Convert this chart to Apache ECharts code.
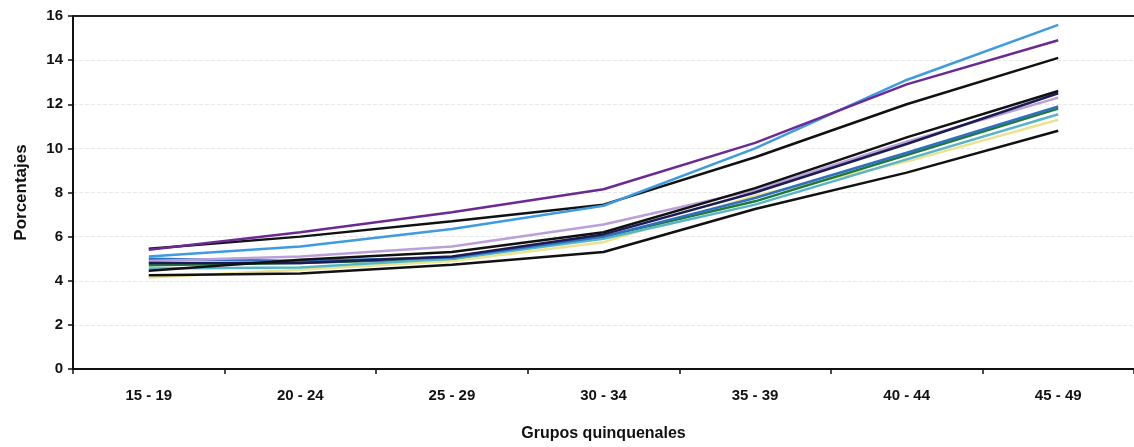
<!DOCTYPE html>
<html><head><meta charset="utf-8">
<script src="https://cdn.jsdelivr.net/npm/echarts@6/dist/echarts.min.js"></script>
<style>html,body{margin:0;padding:0;background:#fff}#c{width:1134px;height:447px}</style>
</head><body><div id="c"></div>
<script>
var categories = ['15 - 19','20 - 24','25 - 29','30 - 34','35 - 39','40 - 44','45 - 49'];
var yTicks = [0,2,4,6,8,10,12,14,16];
var sPurple   = [5.40, 6.20, 7.10, 8.15, 10.25, 12.90, 14.90];
var sLightBlue= [5.10, 5.55, 6.35, 7.40, 10.00, 13.10, 15.60];
var sBlackTop = [5.45, 6.00, 6.70, 7.45, 9.60, 12.00, 14.10];
var sLavender = [4.90, 5.10, 5.55, 6.55, 8.10, 10.30, 12.30];
var sBlackMid = [4.45, 4.95, 5.30, 6.20, 8.20, 10.50, 12.60];
var sNavy     = [4.80, 4.80, 5.10, 6.10, 8.00, 10.20, 12.50];
var sBlue     = [5.00, 4.90, 5.05, 6.00, 7.75, 9.80, 11.90];
var sGreen    = [4.70, 4.80, 5.00, 6.00, 7.60, 9.70, 11.80];
var sTeal     = [4.55, 4.60, 5.00, 5.90, 7.45, 9.50, 11.55];
var sYellow   = [4.15, 4.50, 4.90, 5.75, 7.85, 9.40, 11.30];
var sBlackLow = [4.25, 4.33, 4.73, 5.30, 7.25, 8.90, 10.80];
var seriesDefs = [
  ['Amarillo', sYellow, '#ebe38e'],
  ['Verde', sGreen, '#1f7a3a'],
  ['Turquesa', sTeal, '#58b4c8'],
  ['Azul', sBlue, '#3070c0'],
  ['Lavanda', sLavender, '#b9a0d8'],
  ['Marino', sNavy, '#1c1c55'],
  ['NegroMedio', sBlackMid, '#111111'],
  ['NegroBajo', sBlackLow, '#111111'],
  ['NegroAlto', sBlackTop, '#111111'],
  ['Celeste', sLightBlue, '#3e9be0'],
  ['Morado', sPurple, '#6b2a93']
];
var chart = echarts.init(document.getElementById('c'));
var font = '"Liberation Sans", Arial, sans-serif';
chart.setOption({
  animation: false,
  grid: {left: 73, top: 16, width: 1069, height: 358},
  xAxis: [{
    type: 'category', data: categories, boundaryGap: true, position: 'bottom',
    axisLine: {lineStyle: {color: '#111', width: 2}},
    axisTick: {show: true, length: 5, lineStyle: {color: '#111', width: 1.5}},
    axisLabel: {color: '#111', fontFamily: font, fontWeight: 'bold', fontSize: 15, margin: 19},
    name: 'Grupos quinquenales', nameLocation: 'middle', nameGap: 57,
    nameTextStyle: {color: '#111', fontFamily: font, fontWeight: 'bold', fontSize: 16}
  }, {
    type: 'category', data: categories, position: 'top',
    axisLine: {lineStyle: {color: '#222', width: 2}},
    axisTick: {show: false}, axisLabel: {show: false}
  }],
  yAxis: {
    type: 'value', min: yTicks[0], max: yTicks[yTicks.length-1], interval: 2,
    axisLine: {show: true, lineStyle: {color: '#111', width: 2}},
    axisTick: {show: true, length: 5, lineStyle: {color: '#111', width: 1.5}},
    axisLabel: {color: '#111', fontFamily: font, fontWeight: 'bold', fontSize: 15, margin: 10},
    splitLine: {show: true, lineStyle: {color: '#e8e8e8', width: 1, type: 'dashed'}},
    name: 'Porcentajes', nameLocation: 'middle', nameGap: 43,
    nameTextStyle: {color: '#111', fontFamily: font, fontWeight: 'bold', fontSize: 17}
  },
  series: seriesDefs.map(function (d) {
    return {
      name: d[0], type: 'line', data: d[1], symbol: 'none', smooth: false,
      lineStyle: {color: d[2], width: 2.5}, itemStyle: {color: d[2]}
    };
  })
});
</script></body></html>
